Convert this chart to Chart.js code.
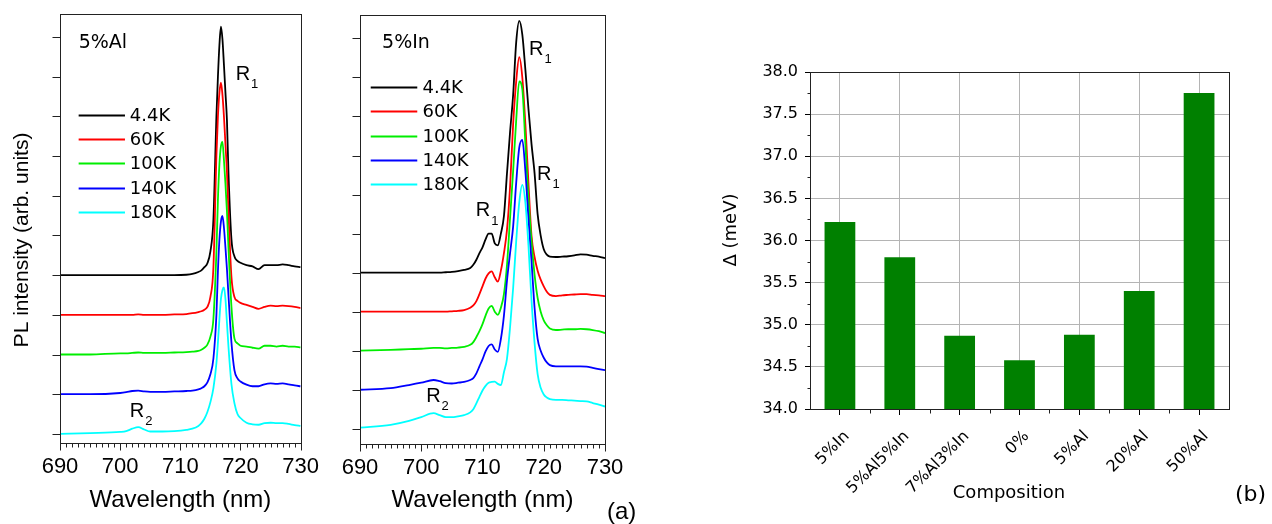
<!DOCTYPE html>
<html>
<head>
<meta charset="utf-8">
<script src="https://cdn.jsdelivr.net/npm/chart.js@4.4.1/dist/chart.umd.min.js"></script>
<style>
html,body{margin:0;padding:0;background:#fff;}
body{position:relative;width:1272px;height:524px;overflow:hidden;}
canvas{position:absolute;top:0;}
</style>
</head>
<body>
<canvas id="pa" width="330" height="524" style="left:0px"></canvas>
<canvas id="pb" width="320" height="524" style="left:330px"></canvas>
<canvas id="pc" width="592" height="524" style="left:680px"></canvas>
<script>
// ---------- DATA ----------
const temperatures = ['4.4K', '60K', '100K', '140K', '180K'];

// Panel (a) left: 5%Al  (intensity in arbitrary units, curves offset)
const wlAl = [690, 695, 700, 701, 702, 703, 704, 705, 707, 709, 711, 712, 713, 713.5, 714, 714.5, 715, 715.5,
  716, 716.25, 716.5, 716.75, 717, 717.25, 717.5, 717.75, 718, 718.5, 719, 719.5, 720,
  721, 722, 723, 724, 725, 726, 727, 728, 729, 730];
const al_4K  = [4.0, 4.0, 4.0, 4.0, 4.0, 4.0, 4.0, 4.0, 4.0, 4.0, 4.01, 4.03, 4.08, 4.12, 4.2, 4.3, 4.6, 5.4,
  8.0, 9.0, 9.8, 10.26, 9.95, 9.3, 8.6, 7.9, 6.6, 4.9, 4.47, 4.36, 4.31,
  4.25, 4.22, 4.15, 4.25, 4.25, 4.25, 4.27, 4.25, 4.22, 4.2];
const al_60K = [3.0, 3.0, 3.0, 3.0, 3.0, 3.01, 3.0, 3.0, 3.0, 3.01, 3.02, 3.04, 3.07, 3.09, 3.13, 3.2, 3.45, 4.2,
  7.0, 8.0, 8.6, 8.85, 8.55, 8.0, 7.3, 6.6, 5.6, 3.95, 3.45, 3.35, 3.3,
  3.25, 3.2, 3.15, 3.2, 3.23, 3.22, 3.23, 3.22, 3.2, 3.17];
const al_100K = [2.0, 2.0, 2.03, 2.03, 2.04, 2.05, 2.04, 2.04, 2.04, 2.05, 2.06, 2.07, 2.09, 2.12, 2.17, 2.25, 2.45, 2.9,
  4.6, 5.9, 6.8, 7.25, 7.36, 6.9, 6.3, 5.6, 4.7, 3.2, 2.4, 2.28, 2.22,
  2.2, 2.17, 2.15, 2.22, 2.22, 2.2, 2.22, 2.2, 2.2, 2.18];
const al_140K = [1.0, 1.0, 1.03, 1.05, 1.08, 1.09, 1.07, 1.06, 1.06, 1.07, 1.08, 1.09, 1.12, 1.15, 1.2, 1.3, 1.5, 1.9,
  3.0, 4.1, 4.9, 5.35, 5.49, 5.2, 4.7, 4.15, 3.5, 2.3, 1.6, 1.4, 1.32,
  1.24, 1.2, 1.2, 1.25, 1.27, 1.26, 1.27, 1.25, 1.22, 1.2];
const al_180K = [0.0, 0.02, 0.05, 0.07, 0.13, 0.17, 0.11, 0.06, 0.06, 0.07, 0.1, 0.13, 0.2, 0.27, 0.38, 0.55, 0.8, 1.15,
  1.78, 2.3, 2.9, 3.4, 3.62, 3.69, 3.4, 2.8, 2.2, 1.25, 0.77, 0.5, 0.4,
  0.28, 0.24, 0.23, 0.27, 0.28, 0.27, 0.27, 0.25, 0.22, 0.2];

// Panel (a) right: 5%In
const wlIn = [690, 695, 698, 700, 702, 703, 704, 705, 706, 707, 708,
  708.5, 709, 709.5, 710, 710.5, 711, 711.5, 712, 712.5, 713, 713.5, 714, 714.5, 715, 715.5,
  716, 716.5, 717, 717.5, 718, 718.5, 719, 719.5, 720, 720.5, 721,
  722, 723, 724, 725, 726, 727, 728, 729, 730];
const in_4K = [4.0, 4.0, 4.0, 4.0, 4.0, 4.0, 4.01, 4.02, 4.04, 4.07, 4.12,
  4.2, 4.33, 4.5, 4.65, 4.85, 5.0, 5.0, 4.75, 4.7, 5.0, 5.45, 6.55, 7.6, 8.55, 9.9,
  10.45, 10.1, 9.2, 8.2, 7.3, 6.55, 5.5, 4.95, 4.6, 4.46, 4.41,
  4.4, 4.41, 4.42, 4.44, 4.47, 4.46, 4.43, 4.41, 4.37];
const in_60K = [3.0, 3.0, 3.0, 3.0, 3.0, 3.0, 3.0, 3.01, 3.02, 3.04, 3.1,
  3.16, 3.27, 3.45, 3.65, 3.85, 3.98, 4.03, 3.88, 3.77, 4.05, 4.5, 5.1, 6.2, 7.8, 8.9,
  9.52, 9.0, 7.8, 6.3, 4.95, 4.4, 4.05, 3.82, 3.65, 3.51, 3.43,
  3.4, 3.42, 3.43, 3.44, 3.45, 3.45, 3.43, 3.42, 3.4];
const in_100K = [2.0, 2.02, 2.04, 2.05, 2.07, 2.07, 2.06, 2.07, 2.08, 2.1, 2.15,
  2.22, 2.35, 2.5, 2.68, 2.9, 3.08, 3.15, 3.0, 2.92, 3.1, 3.45, 4.2, 5.4, 6.6, 7.9,
  8.9, 8.7, 7.3, 5.9, 4.8, 3.95, 3.35, 3.0, 2.78, 2.65, 2.57,
  2.53, 2.54, 2.55, 2.55, 2.56, 2.55, 2.53, 2.5, 2.45];
const in_140K = [1.0, 1.04, 1.12, 1.18, 1.25, 1.22, 1.17, 1.16, 1.18, 1.2, 1.25,
  1.3, 1.42, 1.6, 1.78, 1.98, 2.12, 2.16, 2.03, 1.97, 2.3, 2.9, 3.8, 4.5, 5.18, 6.3,
  7.2, 7.4, 6.6, 5.4, 4.3, 3.1, 2.3, 2.0, 1.82, 1.7, 1.63,
  1.6, 1.6, 1.6, 1.6, 1.6, 1.59, 1.56, 1.53, 1.5];
const in_180K = [0.03, 0.1, 0.2, 0.3, 0.4, 0.35, 0.3, 0.3, 0.32, 0.35, 0.42,
  0.5, 0.65, 0.82, 0.98, 1.1, 1.18, 1.2, 1.21, 1.15, 1.12, 1.45, 1.8, 2.6, 3.6, 4.8,
  5.8, 6.25, 5.8, 4.7, 3.3, 2.2, 1.4, 1.05, 0.88, 0.8, 0.76,
  0.74, 0.74, 0.73, 0.72, 0.71, 0.7, 0.66, 0.62, 0.57];

// Panel (b)
const compositions = ['5%In', '5%Al5%In', '7%Al3%In', '0%', '5%Al', '20%Al', '50%Al'];
const deltaMeV = [36.22, 35.80, 34.87, 34.58, 34.88, 35.40, 37.75];

// ---------- STYLE ----------
const FONT = "'Liberation Sans', Arial, Helvetica, sans-serif";
const WIDE = "'DejaVu Sans', Verdana, sans-serif";
const lineColors = ['#000000', '#ff0000', '#00ee00', '#0000ff', '#00ffff'];
Chart.defaults.font.family = FONT;
Chart.defaults.color = '#000';

const decor = {
  id: 'decor',
  afterDraw(chart, args, o) {
    const ctx = chart.ctx, ca = chart.chartArea;
    const sx = chart.scales.x, sy = chart.scales.y;
    ctx.save();
    const L = Math.round(ca.left) + 0.5, R = Math.round(ca.right) + 0.5;
    const T = Math.round(ca.top) + 0.5, B = Math.round(ca.bottom) + 0.5;
    const line = (x1, y1, x2, y2) => { ctx.beginPath(); ctx.moveTo(x1, y1); ctx.lineTo(x2, y2); ctx.stroke(); };
    ctx.strokeStyle = o.frame || '#000';
    ctx.lineWidth = 1;
    ctx.strokeRect(L, T, R - L, B - T);
    if (o.xTickLen) sx.ticks.forEach(t => {
      const p = Math.round(sx.getPixelForValue(t.value)) + 0.5;
      line(p, B, p, B + o.xTickLen(t.value));
    });
    if (o.yTickLen) sy.ticks.forEach(t => {
      const p = Math.round(sy.getPixelForValue(t.value)) + 0.5;
      line(L, p, L - o.yTickLen, p);
    });
    if (o.minorX) for (let i = 0; i < sx.ticks.length - 1; i++) {
      const p = Math.round((sx.getPixelForValue(i) + sx.getPixelForValue(i + 1)) / 2) + 0.5;
      line(p, B, p, B + o.minorX);
    }
    if (o.minorY) for (let i = 0; i < sy.ticks.length - 1; i++) {
      const v = (sy.ticks[i].value + sy.ticks[i + 1].value) / 2;
      const p = Math.round(sy.getPixelForValue(v)) + 0.5;
      line(L, p, L - o.minorY, p);
    }
    ctx.fillStyle = '#000'; ctx.textBaseline = 'middle'; ctx.textAlign = 'left';
    (o.labels || []).forEach(l => {
      const px = sx.getPixelForValue(l.x), py = sy.getPixelForValue(l.y);
      ctx.font = l.size + 'px ' + (l.family || FONT);
      ctx.fillText(l.text, px, py);
      if (l.sub) {
        const w = ctx.measureText(l.text).width;
        ctx.font = l.subSize + 'px ' + FONT;
        ctx.fillText(l.sub, px + w + 1, py + l.subDy);
      }
    });
    if (o.legend) {
      const lg = o.legend;
      chart.data.datasets.forEach((ds, i) => {
        const py = Math.round(sy.getPixelForValue(lg.y0) + i * lg.dy) + 0.5;
        ctx.strokeStyle = ds.borderColor; ctx.lineWidth = 2;
        line(sx.getPixelForValue(lg.x0), py, sx.getPixelForValue(lg.x1), py);
        ctx.font = lg.size + 'px ' + WIDE; ctx.fillStyle = '#000';
        ctx.fillText(ds.label, sx.getPixelForValue(lg.xt), py + 1);
      });
    }
    (o.free || []).forEach(f => {
      ctx.save(); ctx.translate(f.x, f.y); if (f.rot) ctx.rotate(f.rot);
      ctx.font = f.size + 'px ' + (f.family || FONT); ctx.textAlign = f.align || 'left'; ctx.fillStyle = '#000';
      ctx.textBaseline = 'middle';
      ctx.fillText(f.text, 0, 0); ctx.restore();
    });
    ctx.restore();
  }
};

function spectrumChart(id, wl, series, c) {
  const datasets = series.map((s, i) => ({
    label: temperatures[i],
    data: wl.map((x, k) => ({ x: x, y: s[k] })),
    borderColor: lineColors[i],
    borderWidth: 1.8,
    pointRadius: 0,
    cubicInterpolationMode: 'monotone',
    order: series.length - i
  }));
  return new Chart(document.getElementById(id), {
    type: 'line',
    data: { datasets },
    plugins: [decor],
    options: {
      responsive: false, animation: false, devicePixelRatio: 1, events: [],
      layout: { padding: c.padding },
      plugins: { legend: { display: false }, tooltip: { enabled: false }, decor: c.decor },
      scales: {
        x: {
          type: 'linear', min: 690, max: 730,
          afterFit: s => { s.height = c.xHeight; },
          grid: { display: false, drawTicks: false },
          border: { display: false },
          ticks: {
            stepSize: 1, autoSkip: false, maxRotation: 0, includeBounds: false, padding: 11,
            font: { size: 22 }, color: '#000',
            callback: v => (v % 10 === 0 ? String(v) : '')
          },
          title: { display: true, text: 'Wavelength (nm)', font: { size: 24 }, color: '#000', padding: { top: 0, bottom: 9 } }
        },
        y: {
          type: 'linear', min: c.ymin, max: c.ymax,
          afterFit: s => { s.width = c.yWidth; },
          grid: { display: false, drawTicks: false },
          border: { display: false },
          ticks: { display: false, stepSize: 1, includeBounds: false }
        }
      }
    }
  });
}

const subDy = 10;
spectrumChart('pa', wlAl, [al_4K, al_60K, al_100K, al_140K, al_180K], {
  padding: { left: 0, top: 14, right: 26, bottom: 0 },
  xHeight: 81, yWidth: 60, ymin: -0.23, ymax: 10.58,
  decor: {
    frame: '#222',
    xTickLen: v => (v % 10 === 0 ? 7 : 4),
    yTickLen: 8,
    labels: [
      { x: 693.1, y: 9.84, text: '5%Al', size: 19, family: WIDE },
      { x: 719.2, y: 9.06, text: 'R', size: 20, sub: '1', subSize: 13, subDy: subDy },
      { x: 701.6, y: 0.57, text: 'R', size: 20, sub: '2', subSize: 13, subDy: subDy }
    ],
    legend: { x0: 693.1, x1: 700.8, xt: 701.6, y0: 8.04, dy: 24.3, size: 18 },
    free: [{ x: 22, y: 240, rot: -Math.PI / 2, align: 'center', text: 'PL intensity (arb. units)', size: 21 }]
  }
});

spectrumChart('pb', wlIn, [in_4K, in_60K, in_100K, in_140K, in_180K], {
  padding: { left: 0, top: 15, right: 45, bottom: 0 },
  xHeight: 80, yWidth: 30, ymin: -0.39, ymax: 10.6,
  decor: {
    frame: '#222',
    xTickLen: v => (v % 10 === 0 ? 7 : 4),
    yTickLen: 8,
    labels: [
      { x: 693.6, y: 9.88, text: '5%In', size: 19, family: WIDE },
      { x: 717.6, y: 9.71, text: 'R', size: 20, sub: '1', subSize: 13, subDy: subDy },
      { x: 718.9, y: 6.52, text: 'R', size: 20, sub: '1', subSize: 13, subDy: subDy },
      { x: 708.9, y: 5.58, text: 'R', size: 20, sub: '1', subSize: 13, subDy: subDy },
      { x: 700.8, y: 0.84, text: 'R', size: 20, sub: '2', subSize: 13, subDy: subDy }
    ],
    legend: { x0: 691.75, x1: 699.35, xt: 700.2, y0: 8.75, dy: 24.2, size: 18 },
    free: [{ x: 277, y: 512, text: '(a)', size: 24 }]
  }
});

new Chart(document.getElementById('pc'), {
  type: 'bar',
  data: {
    labels: compositions,
    datasets: [{
      label: 'Δ', data: deltaMeV, backgroundColor: '#008000', borderWidth: 0,
      barPercentage: 0.514, categoryPercentage: 1.0
    }]
  },
  plugins: [decor],
  options: {
    responsive: false, animation: false, devicePixelRatio: 1, events: [],
    layout: { padding: { left: 0, top: 72, right: 43, bottom: 0 } },
    plugins: {
      legend: { display: false }, tooltip: { enabled: false },
      decor: {
        frame: '#222', minorX: 4, minorY: 3,
        free: [
          { x: 51, y: 230, rot: -Math.PI / 2, align: 'center', text: 'Δ (meV)', size: 18, family: WIDE },
          { x: 329, y: 493, align: 'center', text: 'Composition', size: 18, family: WIDE },
          { x: 555, y: 495, text: '(b)', size: 22, family: WIDE }
        ]
      }
    },
    scales: {
      x: {
        afterFit: s => { s.height = 115; },
        offset: true,
        grid: { offset: false, color: '#b4b4b4', tickColor: '#000', tickLength: 6 },
        border: { display: false },
        ticks: { minRotation: 45, maxRotation: 45, autoSkip: false, padding: 12, labelOffset: 7,
                 font: { size: 16, family: WIDE }, color: '#000' }
      },
      y: {
        min: 34, max: 38,
        afterFit: s => { s.width = 130; },
        grid: { color: '#b4b4b4', tickColor: '#000', tickLength: 5 },
        border: { display: false },
        ticks: { stepSize: 0.5, padding: 7, font: { size: 16, family: WIDE }, color: '#000', callback: v => Number(v).toFixed(1) }
      }
    }
  }
});
</script>
</body>
</html>
